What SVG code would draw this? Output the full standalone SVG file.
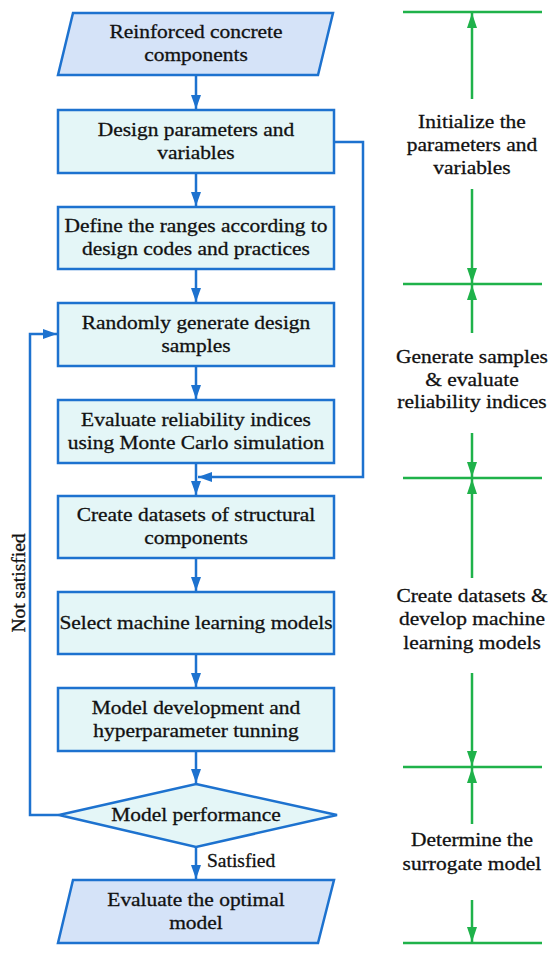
<svg xmlns="http://www.w3.org/2000/svg" width="550" height="954" viewBox="0 0 550 954">
<style>
.para{fill:#d5e3f8;stroke:#1d72cf;stroke-width:2.5;stroke-linejoin:miter}
.box{fill:#e4f6f7;stroke:#1d72cf;stroke-width:2.5}
.t{font-family:"Liberation Serif","Times New Roman",serif;font-size:19.5px;fill:#111;stroke:#111;stroke-width:0.3px;text-anchor:middle;transform-box:fill-box;transform-origin:center;transform:scaleX(1.1)}
.lbl{font-family:"Liberation Serif","Times New Roman",serif;font-size:19.5px;fill:#111;stroke:#111;stroke-width:0.3px}
.con{fill:none;stroke:#1d72cf;stroke-width:2.5}
.g{fill:none;stroke:#1fb24a;stroke-width:2.5}
</style>
<defs>
<marker id="ab" markerUnits="userSpaceOnUse" markerWidth="14" markerHeight="10" refX="14" refY="5" orient="auto"><path d="M0,0 L14,5 L0,10 Z" fill="#1d72cf"/></marker>
<marker id="ag" markerUnits="userSpaceOnUse" markerWidth="15" markerHeight="10" refX="15" refY="5" orient="auto"><path d="M0,0 L15,5 L0,10 Z" fill="#1fb24a"/></marker>
</defs>

<g id="connectors">
<line class="con" x1="196" y1="75" x2="196" y2="109" marker-end="url(#ab)"/>
<line class="con" x1="196" y1="173" x2="196" y2="206" marker-end="url(#ab)"/>
<line class="con" x1="196" y1="269" x2="196" y2="302" marker-end="url(#ab)"/>
<line class="con" x1="196" y1="366" x2="196" y2="399" marker-end="url(#ab)"/>
<line class="con" x1="196" y1="463" x2="196" y2="495" marker-end="url(#ab)"/>
<line class="con" x1="196" y1="558" x2="196" y2="591" marker-end="url(#ab)"/>
<line class="con" x1="196" y1="654" x2="196" y2="687" marker-end="url(#ab)"/>
<line class="con" x1="196" y1="751" x2="196" y2="783" marker-end="url(#ab)"/>
<line class="con" x1="196" y1="847" x2="196" y2="879" marker-end="url(#ab)"/>
<path class="con" d="M334,142 H363 V477 H198" marker-end="url(#ab)"/>
<path class="con" d="M59,815 H30 V334 H57" marker-end="url(#ab)"/>
<text class="lbl" x="207" y="867">Satisfied</text>
<text class="lbl" x="25" y="583" text-anchor="middle" transform="rotate(-90 25 583)">Not satisfied</text>
</g>

<g id="n1"><polygon class="para" points="73,13 333,13 318,75 58,75"/>
<text class="t" x="196" y="38.5">Reinforced concrete</text><text class="t" x="196" y="61.5">components</text></g>
<g id="n2"><rect class="box" x="58" y="110" width="276" height="63"/>
<text class="t" x="196" y="136">Design parameters and</text><text class="t" x="196" y="159">variables</text></g>
<g id="n3"><rect class="box" x="58" y="207" width="276" height="62"/>
<text class="t" x="196" y="232.5">Define the ranges according to</text><text class="t" x="196" y="255.5">design codes and practices</text></g>
<g id="n4"><rect class="box" x="58" y="303" width="276" height="63"/>
<text class="t" x="196" y="329">Randomly generate design</text><text class="t" x="196" y="352">samples</text></g>
<g id="n5"><rect class="box" x="58" y="400" width="276" height="63"/>
<text class="t" x="196" y="426">Evaluate reliability indices</text><text class="t" x="196" y="449">using Monte Carlo simulation</text></g>
<g id="n6"><rect class="box" x="58" y="496" width="276" height="62"/>
<text class="t" x="196" y="521.5">Create datasets of structural</text><text class="t" x="196" y="544.5">components</text></g>
<g id="n7"><rect class="box" x="58" y="592" width="276" height="62"/>
<text class="t" x="196" y="629.5">Select machine learning models</text></g>
<g id="n8"><rect class="box" x="58" y="688" width="276" height="63"/>
<text class="t" x="196" y="714">Model development and</text><text class="t" x="196" y="737">hyperparameter tunning</text></g>
<g id="n9"><polygon class="box" points="196,784 337,815 196,847 59,815"/>
<text class="t" x="196" y="821">Model performance</text></g>
<g id="n10"><polygon class="para" points="73,880 334,880 318,943 58,943"/>
<text class="t" x="196" y="906">Evaluate the optimal</text><text class="t" x="196" y="929">model</text></g>

<g id="stages">
<line class="g" x1="403" y1="12" x2="542" y2="12"/>
<line class="g" x1="403" y1="284" x2="542" y2="284"/>
<line class="g" x1="403" y1="478" x2="542" y2="478"/>
<line class="g" x1="403" y1="767" x2="542" y2="767"/>
<line class="g" x1="403" y1="943" x2="542" y2="943"/>
<line class="g" x1="472" y1="99" x2="472" y2="13" marker-end="url(#ag)"/>
<line class="g" x1="472" y1="189" x2="472" y2="283" marker-end="url(#ag)"/>
<line class="g" x1="472" y1="333" x2="472" y2="285" marker-end="url(#ag)"/>
<line class="g" x1="472" y1="433" x2="472" y2="477" marker-end="url(#ag)"/>
<line class="g" x1="472" y1="578" x2="472" y2="479" marker-end="url(#ag)"/>
<line class="g" x1="472" y1="673" x2="472" y2="766" marker-end="url(#ag)"/>
<line class="g" x1="472" y1="824" x2="472" y2="768" marker-end="url(#ag)"/>
<line class="g" x1="472" y1="900" x2="472" y2="942" marker-end="url(#ag)"/>
<text class="t" x="472" y="128">Initialize the</text><text class="t" x="472" y="151">parameters and</text><text class="t" x="472" y="174">variables</text>
<text class="t" x="472" y="363">Generate samples</text><text class="t" x="472" y="386">&amp; evaluate</text><text class="t" x="472" y="408">reliability indices</text>
<text class="t" x="472" y="602">Create datasets &amp;</text><text class="t" x="472" y="625">develop machine</text><text class="t" x="472" y="649">learning models</text>
<text class="t" x="472" y="846">Determine the</text><text class="t" x="472" y="870">surrogate model</text>
</g>
</svg>
